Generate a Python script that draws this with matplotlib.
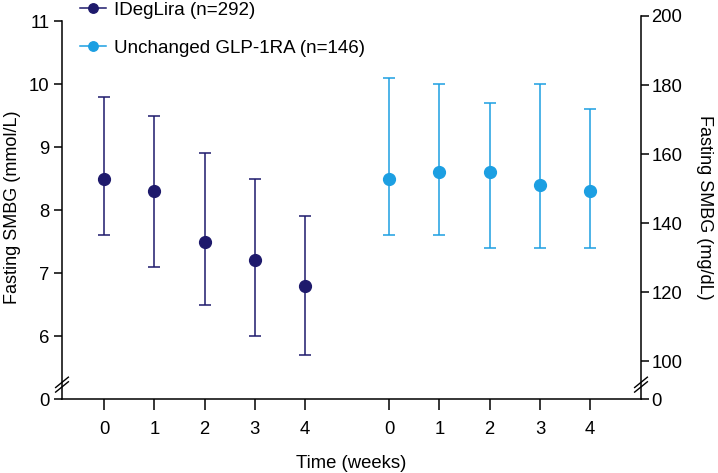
import numpy as np
import matplotlib
matplotlib.use("Agg")
import matplotlib.pyplot as plt
from matplotlib.lines import Line2D
import matplotlib.transforms as mtransforms

plt.rcParams['font.family'] = ['Liberation Sans', 'DejaVu Sans']

# ---- data (mmol/L) ----
weeks = [0, 1, 2, 3, 4]
ideg_mean = [8.5, 8.3, 7.5, 7.2, 6.8]
ideg_upper = [9.8, 9.5, 8.9, 8.5, 7.9]
ideg_lower = [7.6, 7.1, 6.5, 6.0, 5.7]
glp_mean = [8.5, 8.6, 8.6, 8.4, 8.3]
glp_upper = [10.1, 10.0, 9.7, 10.0, 9.6]
glp_lower = [7.6, 7.6, 7.4, 7.4, 7.4]
left_ticks = [0, 6, 7, 8, 9, 10, 11]
right_ticks = [0, 100, 120, 140, 160, 180, 200]
labels = ["IDegLira (n=292)", "Unchanged GLP-1RA (n=146)"]

navy = '#1e1a6c'
blue = '#1c9fe2'
group_offset = 5.67
FS = 13.3
BRK = 5.4  # below this value the axis is compressed (axis break)

# broken-axis scales
def fwd_l(v):
    v = np.asarray(v, float)
    return np.where(v >= BRK, v - 5, v * (BRK - 5) / BRK)

def inv_l(d):
    d = np.asarray(d, float)
    return np.where(d >= BRK - 5, d + 5, d * BRK / (BRK - 5))

def fwd_r(m):
    m = np.asarray(m, float)
    return np.where(m >= 100, 0.603 + (m - 100) * 0.05477, m * 0.00603)

def inv_r(d):
    d = np.asarray(d, float)
    return np.where(d >= 0.603, 100 + (d - 0.603) / 0.05477, d / 0.00603)

fig = plt.figure(figsize=(7.18, 4.73), dpi=100)
ax = fig.add_axes([62/718, (473-399)/473, (641-62)/718, (399-16)/473])
ax.set_yscale('function', functions=(fwd_l, inv_l))
ax.set_ylim(0, 11.08)
ax.set_xlim(-0.835, 10.68)

x1 = np.array(weeks, float)
x2 = x1 + group_offset
for x, m, lo, up, c in [(x1, ideg_mean, ideg_lower, ideg_upper, navy),
                        (x2, glp_mean, glp_lower, glp_upper, blue)]:
    m = np.array(m); lo = np.array(lo); up = np.array(up)
    ax.errorbar(x, m, yerr=[m - lo, up - m], fmt='o', color=c, ecolor=c,
                markersize=8.5, elinewidth=1.1, capsize=4.3, capthick=1.1,
                clip_on=False, zorder=3)

ax.set_xticks(list(x1) + list(x2))
ax.set_xticklabels([str(w) for w in weeks] * 2)
ax.set_yticks(left_ticks)
ax.set_yticklabels([str(t) for t in left_ticks])
ax.tick_params(axis='x', length=8, width=1.1, pad=7.5, labelsize=FS)
ax.tick_params(axis='y', length=5.5, width=1.1, pad=3.5, labelsize=FS)
ax.spines['top'].set_visible(False)
ax.spines['right'].set_visible(False)
ax.spines['left'].set_bounds(0, 11)
for s in ['left', 'bottom']:
    ax.spines[s].set_linewidth(1.1)
ax.set_xlabel('Time (weeks)', fontsize=FS, labelpad=12.5)
ax.set_ylabel('Fasting SMBG (mmol/L)', fontsize=13, labelpad=6)

ax2 = ax.twinx()
ax2.set_yscale('function', functions=(fwd_r, inv_r))
ax2.set_ylim(0, float(inv_r(fwd_l(11.08))))
ax2.set_yticks(right_ticks)
ax2.set_yticklabels([str(t) for t in right_ticks])
ax2.tick_params(axis='y', length=6, width=1.1, pad=1.5, labelsize=FS)
for s in ['top', 'left', 'bottom']:
    ax2.spines[s].set_visible(False)
ax2.spines['right'].set_linewidth(1.1)
ax2.set_ylabel('Fasting SMBG (mg/dL)', fontsize=13, rotation=270, labelpad=22)

# break marks
for xa in (0.0, 1.0):
    tr = mtransforms.blended_transform_factory(ax.transAxes, ax.transAxes)
    for dy in (0.0, 0.012):
        ax.plot([xa - 0.011, xa + 0.011], [0.018 + dy, 0.045 + dy],
                transform=tr, color='black', lw=1.0, clip_on=False)
    ax.plot([xa - 0.004, xa + 0.004], [0.03, 0.045], transform=tr,
            color='white', lw=2.5, clip_on=False, zorder=0.5)

handles = [Line2D([], [], color=navy, marker='o', markersize=6.8, lw=1.1),
           Line2D([], [], color=blue, marker='o', markersize=6.8, lw=1.1)]
fig.legend(handles, labels, loc='upper left', bbox_to_anchor=(80/718, 0.997),
           frameon=False, fontsize=13.5, labelspacing=1.12, handlelength=1.4,
           handletextpad=0.4, borderpad=0, borderaxespad=0)

fig.savefig('out.png', dpi=100)
